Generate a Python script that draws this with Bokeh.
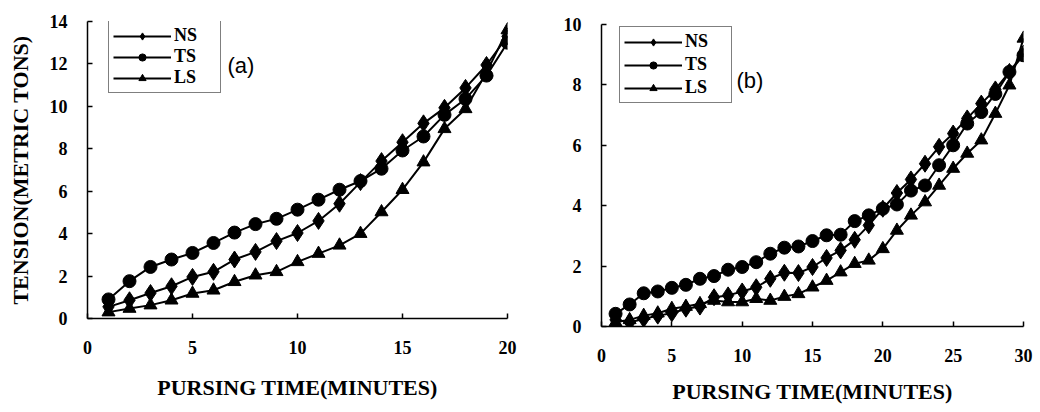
from bokeh.plotting import figure
from bokeh.layouts import row, column
from bokeh.models import Legend, LegendItem, Label, FixedTicker, Range1d
from bokeh.embed import file_html
from bokeh.resources import INLINE

# ---- data panel (a) ----
time_a = [1, 2, 3, 4, 5, 6, 7, 8, 9, 10, 11, 12, 13, 14, 15, 16, 17, 18, 19, 20]
ns_a = [0.55, 0.86, 1.2, 1.52, 1.96, 2.2, 2.78, 3.14, 3.65, 4.03, 4.6, 5.41, 6.43, 7.42, 8.31, 9.2, 9.93, 10.87, 11.95, 13.3]
ts_a = [0.9, 1.76, 2.43, 2.78, 3.09, 3.56, 4.05, 4.45, 4.7, 5.13, 5.6, 6.07, 6.48, 7.06, 7.92, 8.58, 9.6, 10.35, 11.45, 13.0]
ls_a = [0.3, 0.47, 0.63, 0.86, 1.18, 1.33, 1.73, 2.04, 2.2, 2.67, 3.06, 3.45, 4.0, 5.02, 6.07, 7.37, 8.94, 9.88, 11.6, 13.6]

# ---- data panel (b) ----
time_b = list(range(1, 31))
ns_b = [0.22, 0.14, 0.25, 0.36, 0.44, 0.59, 0.66, 0.97, 1.03, 1.16, 1.3, 1.58, 1.78, 1.77, 1.97,
        2.27, 2.52, 2.87, 3.35, 3.9, 4.42, 4.87, 5.39, 5.95, 6.39, 6.89, 7.38, 7.85, 8.43, 9.04]
ts_b = [0.42, 0.73, 1.1, 1.16, 1.28, 1.38, 1.58, 1.67, 1.88, 1.97, 2.13, 2.41, 2.61, 2.65, 2.83,
        3.02, 3.04, 3.49, 3.68, 3.9, 4.04, 4.5, 4.67, 5.34, 6.0, 6.72, 7.1, 7.7, 8.43, 8.98]
ls_b = [0.14, 0.22, 0.36, 0.44, 0.59, 0.66, 0.75, 0.86, 0.81, 0.81, 0.92, 0.86, 0.99, 1.08, 1.3,
        1.52, 1.8, 2.08, 2.19, 2.57, 3.18, 3.68, 4.12, 4.67, 5.23, 5.73, 6.17, 7.05, 7.99, 9.54]

series_names = ["NS", "TS", "LS"]
x_ticks_a = [0, 5, 10, 15, 20]
y_ticks_a = [0, 2, 4, 6, 8, 10, 12, 14]
x_ticks_b = [0, 5, 10, 15, 20, 25, 30]
y_ticks_b = [0, 2, 4, 6, 8, 10]

SERIF = "Liberation Serif"


def make_panel(width, x, ys, x_end, y_end, xt, yt, borders, ylabel, tag, leg_loc, tag_loc,
               title_standoff, leg_spacing):
    left, right, top, bottom = borders
    p = figure(width=width, height=412, output_backend="svg", toolbar_location=None,
               x_range=Range1d(0, x_end), y_range=Range1d(0, y_end),
               min_border_left=left, min_border_right=right,
               min_border_top=top, min_border_bottom=bottom)
    p.outline_line_color = None
    p.grid.visible = False
    p.background_fill_color = "white"
    p.border_fill_color = "white"

    markers = ["diamond", "circle", "triangle"]
    sizes = [17, 13, 13]
    items = []
    for name, yv, mk, sz in zip(series_names, ys, markers, sizes):
        ln = p.line(x, yv, line_color="black", line_width=2)
        sc = p.scatter(x, yv, marker=mk, size=sz, fill_color="black", line_color="black")
        items.append(LegendItem(label=name, renderers=[ln, sc]))

    for ax in (p.xaxis[0], p.yaxis[0]):
        ax.axis_line_color = "black"
        ax.axis_line_width = 1.5
        ax.major_tick_in = 5
        ax.major_tick_out = 0
        ax.major_tick_line_width = 1.5
        ax.minor_tick_line_color = None
        ax.major_label_text_font = SERIF
        ax.major_label_text_font_style = "bold"
        ax.major_label_text_font_size = "18px"
        ax.major_label_text_color = "black"
        ax.axis_label_text_font = SERIF
        ax.axis_label_text_font_style = "bold"
        ax.axis_label_text_font_size = "22px"
        ax.axis_label_text_color = "black"
    p.xaxis.ticker = FixedTicker(ticks=xt)
    p.yaxis.ticker = FixedTicker(ticks=yt)
    p.xaxis.major_label_standoff = 22
    p.yaxis.major_label_standoff = 20
    p.xaxis.axis_label = "PURSING TIME(MINUTES)"
    p.xaxis.axis_label_standoff = title_standoff
    if ylabel:
        p.yaxis.axis_label = ylabel
        p.yaxis.axis_label_standoff = 14

    legend = Legend(items=items, location=leg_loc, padding=4, margin=0,
                    glyph_width=58, glyph_height=18, label_height=18, label_width=42,
                    label_standoff=3, spacing=leg_spacing,
                    label_text_font=SERIF, label_text_font_style="bold",
                    label_text_font_size="18px", label_text_color="black",
                    border_line_color="black", border_line_width=1.5,
                    background_fill_color="white", background_fill_alpha=1.0)
    p.add_layout(legend, "center")

    lab = Label(x=tag_loc[0], y=tag_loc[1], x_units="screen", y_units="screen", text=tag,
                text_font="Liberation Sans", text_font_size="22px", text_color="black",
                text_baseline="middle", text_align="left")
    p.add_layout(lab)
    return p


pa = make_panel(520, time_a, [ns_a, ts_a, ls_a], 20, 14, x_ticks_a, y_ticks_a,
                (87, 13, 21, 94), "TENSION(METRIC TONS)", "(a)", (21, 225), (140, 253), 18, 0)
pb = make_panel(520, time_b, [ns_b, ts_b, ls_b], 30, 10, x_ticks_b, y_ticks_b,
                (81, 17, 24, 86), None, "(b)", (18, 223), (135, 246), 14, 2)

layout = row(column(pa), column(pb))
open("out.html", "w").write(file_html(layout, INLINE))
